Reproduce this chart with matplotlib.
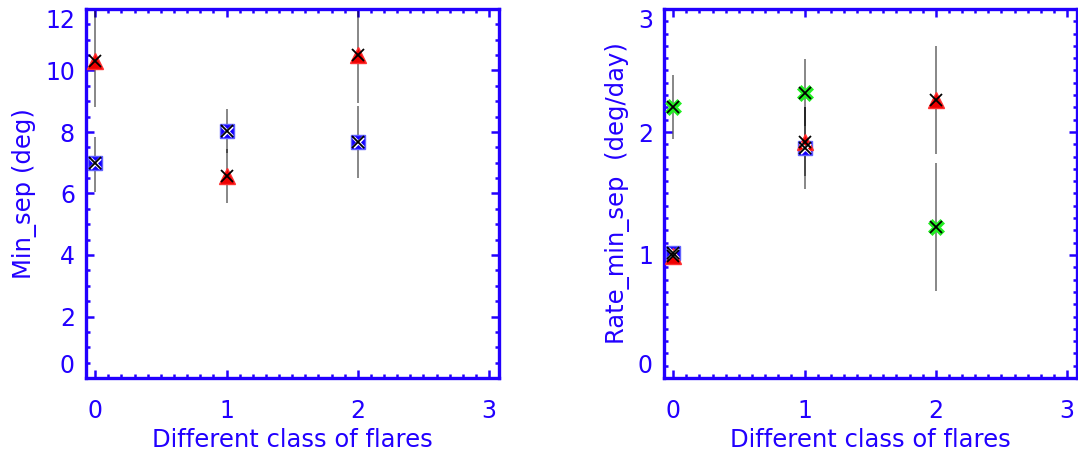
import matplotlib
matplotlib.use("Agg")
import matplotlib.pyplot as plt
from matplotlib.ticker import MultipleLocator
import numpy as np

BLUE_AX = '#2200ff'

# ---------------- data ----------------
classes = [0, 1, 2]

# Left panel: Min_sep (deg)
sep_sq = [7.0, 8.03, 7.67]
sep_sq_lo = [0.95, 0.72, 1.17]
sep_sq_hi = [0.85, 0.72, 1.17]
sep_tri = [10.3, 6.57, 10.5]
sep_tri_lo = [1.49, 0.88, 1.56]
sep_tri_hi = [1.75, 0.88, 1.56]

# Right panel: Rate_min_sep (deg/day)
rate_x = [0, 1, 2]
rate_sq = [1.02, 1.87, np.nan]
rate_sq_err = [0.0, 0.33, 0.0]
rate_tri = [0.99, 1.92, 2.26]
rate_tri_err = [0.0, 0.28, 0.44]
rate_gr = [2.20, 2.32, 1.23]
rate_gr_err = [0.26, 0.27, 0.52]

xlabel = 'Different class of flares'
ylabels = ['Min_sep (deg)', 'Rate_min_sep  (deg/day)']

fig = plt.figure(figsize=(10.78, 4.55), dpi=100)
W, H = 1078, 455
ax1 = fig.add_axes([86 / W, (H - 378) / H, 413 / W, 369 / H])
ax2 = fig.add_axes([664 / W, (H - 378) / H, 413 / W, 369 / H])


def errbars(ax, x, y, lo, hi):
    for xi, yi, l, h in zip(x, y, lo, hi):
        if np.isnan(yi) or (l == 0 and h == 0):
            continue
        ax.plot([xi, xi], [yi - l, yi + h], color='black', lw=1.2, alpha=0.55,
                solid_capstyle='butt', zorder=2, clip_on=True)


def markers(ax, x, y, kind):
    x = np.asarray(x, float)
    y = np.asarray(y, float)
    if kind == 'sq':
        ax.plot(x, y, 's', ms=10, mfc='#1400ff', mec='#6060ff', mew=1, ls='none', zorder=3)
        ax.plot(x, y, 'x', ms=7, color='white', mew=2.5, ls='none', zorder=4)
    elif kind == 'tri':
        ax.plot(x, y, '^', ms=12, mfc='#ee0000', mec='#ff3030', mew=1, ls='none', zorder=3)
    elif kind == 'gr':
        ax.plot(x, y, 'X', ms=12, mfc='#22ee22', mec='#22ee22', mew=0.5, ls='none', zorder=3)
    ax.plot(x, y, 'x', ms=8, color='black', mew=1.3, ls='none', zorder=5)


errbars(ax1, classes, sep_sq, sep_sq_lo, sep_sq_hi)
errbars(ax1, classes, sep_tri, sep_tri_lo, sep_tri_hi)
markers(ax1, classes, sep_sq, 'sq')
markers(ax1, classes, sep_tri, 'tri')

errbars(ax2, rate_x, rate_gr, rate_gr_err, rate_gr_err)
errbars(ax2, rate_x, rate_tri, rate_tri_err, rate_tri_err)
errbars(ax2, rate_x, rate_sq, rate_sq_err, rate_sq_err)
markers(ax2, rate_x, rate_gr, 'gr')
markers(ax2, rate_x, rate_sq, 'sq')
markers(ax2, rate_x, rate_tri, 'tri')

ax1.set_ylim(0, 12)
ax2.set_ylim(0, 3)
for ax, yl, ymaj, ymin in [(ax1, ylabels[0], 2, 0.5), (ax2, ylabels[1], 1, 0.1)]:
    ax.set_xlim(-0.07, 3.075)
    ax.xaxis.set_major_locator(MultipleLocator(1))
    ax.xaxis.set_minor_locator(MultipleLocator(0.1))
    ax.yaxis.set_major_locator(MultipleLocator(ymaj))
    ax.yaxis.set_minor_locator(MultipleLocator(ymin))
    for s in ax.spines.values():
        s.set_color(BLUE_AX)
        s.set_linewidth(2.4)
    ax.tick_params(which='both', direction='in', top=True, right=True,
                   color=BLUE_AX, labelcolor=BLUE_AX, labelsize=17)
    ax.tick_params(which='major', length=6, width=1.8)
    ax.tick_params(which='minor', length=3, width=1.8)
    ax.tick_params(axis='x', which='major', pad=15)
    ax.tick_params(axis='y', which='major', pad=8)
    ax.set_xlabel(xlabel, color=BLUE_AX, fontsize=17.5, labelpad=4)
    ax.set_ylabel(yl, color=BLUE_AX, fontsize=17.5, labelpad=6)
    ax.set_facecolor('white')

for ax in (ax1, ax2):
    lo, hi = ax.get_ylim()
    for t in ax.get_yticklabels():
        y = t.get_position()[1]
        if abs(y - lo) < 1e-9:
            t.set_va('bottom')
        elif abs(y - hi) < 1e-9:
            t.set_va('top')

fig.savefig('out.png', dpi=100, facecolor='white')
